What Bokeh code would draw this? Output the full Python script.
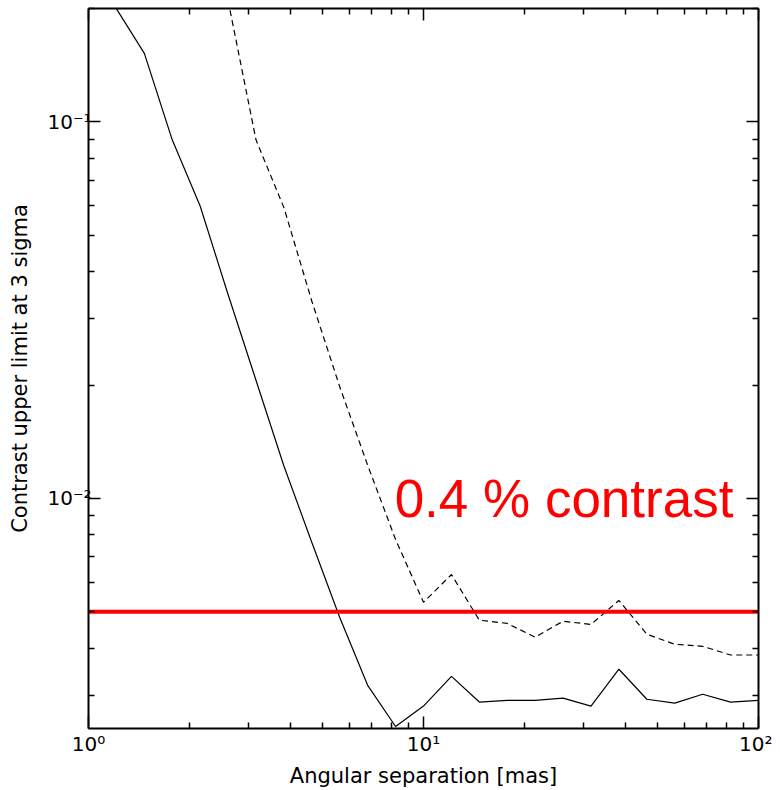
from bokeh.plotting import figure
from bokeh.models import Range1d, FixedTicker, LogAxis, Label, CustomJSTickFormatter
from bokeh.embed import file_html
from bokeh.resources import INLINE

# ---- data ----
separation_mas = [1.0, 1.212, 1.468, 1.778, 2.154, 2.610, 3.162, 3.831, 4.642, 5.623,
                  6.813, 8.254, 10.0, 12.12, 14.68, 17.78, 21.54, 26.10, 31.62, 38.31,
                  46.42, 56.23, 68.13, 82.54, 100.0]
contrast_solid = [0.27, 0.1995, 0.152, 0.0896, 0.0598, 0.0348, 0.0206, 0.0122, 0.00764, 0.00483,
                  0.00319, 0.00248, 0.00281, 0.00337, 0.00288, 0.00291, 0.00291, 0.00295, 0.00281, 0.00352,
                  0.00293, 0.00286, 0.00302, 0.00288, 0.00291]
contrast_dashed = [float("nan"), float("nan"), float("nan"), float("nan"), float("nan"), 0.21, 0.0896, 0.0592, 0.0334, 0.0198,
                   0.01225, 0.00778, 0.00530, 0.00628, 0.00475, 0.00466, 0.00428, 0.00472, 0.00463, 0.00536,
                   0.00436, 0.00410, 0.00405, 0.00384, 0.00384]
limit_x = [1.0, 100.0]
limit_y = [0.005, 0.005]
limit_text = "0.4 % contrast"

x_major = [1, 10, 100]
x_tick_labels = ["10\u2070", "10\u00b9", "10\u00b2"]
y_major = [0.01, 0.1]
y_tick_labels = ["10\u207b\u00b2", "10\u207b\u00b9"]

x_minor = [m * 10 ** e for e in range(0, 2) for m in range(2, 10)]
y_minor = [m * 10.0 ** e for e in range(-3, 0) for m in range(2, 10)]

FONT = "DejaVu Sans"

p = figure(x_axis_type="log", y_axis_type="log",
           x_range=Range1d(1, 100), y_range=Range1d(0.00245, 0.2),
           frame_width=670, frame_height=720,
           min_border_left=88, min_border_top=8, min_border_right=14, min_border_bottom=58,
           output_backend="svg", toolbar_location=None)
p.grid.visible = False
p.outline_line_color = None
p.background_fill_color = "white"
p.border_fill_color = "white"

JS = """
let best = -1;
for (let i = 0; i < tvals.length; i++) {
    if (Math.abs(tvals[i] - tick) <= 1e-6 * Math.abs(tvals[i])) { best = i; }
}
return best >= 0 ? tlabels[best] : "";
"""


def style_axis(ax, ticks, minor, labels, show_labels, label_text="", tick_standoff=0, label_standoff=0):
    ax.ticker = FixedTicker(ticks=ticks, minor_ticks=minor)
    ax.formatter = CustomJSTickFormatter(args=dict(tvals=ticks, tlabels=labels), code=JS)
    ax.axis_line_color = "black"
    ax.axis_line_width = 2
    ax.major_tick_in = 12
    ax.major_tick_out = 0
    ax.minor_tick_in = 6
    ax.minor_tick_out = 0
    ax.major_tick_line_width = 1.5
    ax.minor_tick_line_width = 1.5
    ax.major_tick_line_color = "black"
    ax.minor_tick_line_color = "black"
    ax.major_label_text_font = FONT
    ax.major_label_text_font_size = "20px"
    if show_labels:
        ax.major_label_text_color = "black"
        ax.major_label_standoff = tick_standoff
        ax.axis_label = label_text
        ax.axis_label_text_font = FONT
        ax.axis_label_text_font_size = "21px"
        ax.axis_label_text_font_style = "normal"
        ax.axis_label_text_color = "black"
        ax.axis_label_standoff = label_standoff
    else:
        ax.major_label_text_color = None
        ax.major_label_standoff = 0
        ax.axis_label_standoff = 0


style_axis(p.xaxis[0], x_major, x_minor, x_tick_labels, True, "Angular separation [mas]", 3, 5)
style_axis(p.yaxis[0], y_major, y_minor, y_tick_labels, True, "Contrast upper limit at 3 sigma", -3, 12)

top = LogAxis()
style_axis(top, x_major, x_minor, ["", "", ""], False)
p.add_layout(top, "above")
right = LogAxis()
style_axis(right, y_major, y_minor, ["", ""], False)
p.add_layout(right, "right")

p.line(separation_mas, contrast_solid, line_color="black", line_width=1.2)
p.line(separation_mas, contrast_dashed, line_color="black", line_width=1.2, line_dash="6 4")
p.line(limit_x, limit_y, line_color="#ff0000", line_width=4)

p.add_layout(Label(x=8.2, y=0.01, text=limit_text, text_color="#ff0000",
                   text_font="Liberation Sans", text_font_size="53px",
                   text_baseline="alphabetic", text_align="left"))

open("out.html", "w").write(file_html(p, INLINE))
